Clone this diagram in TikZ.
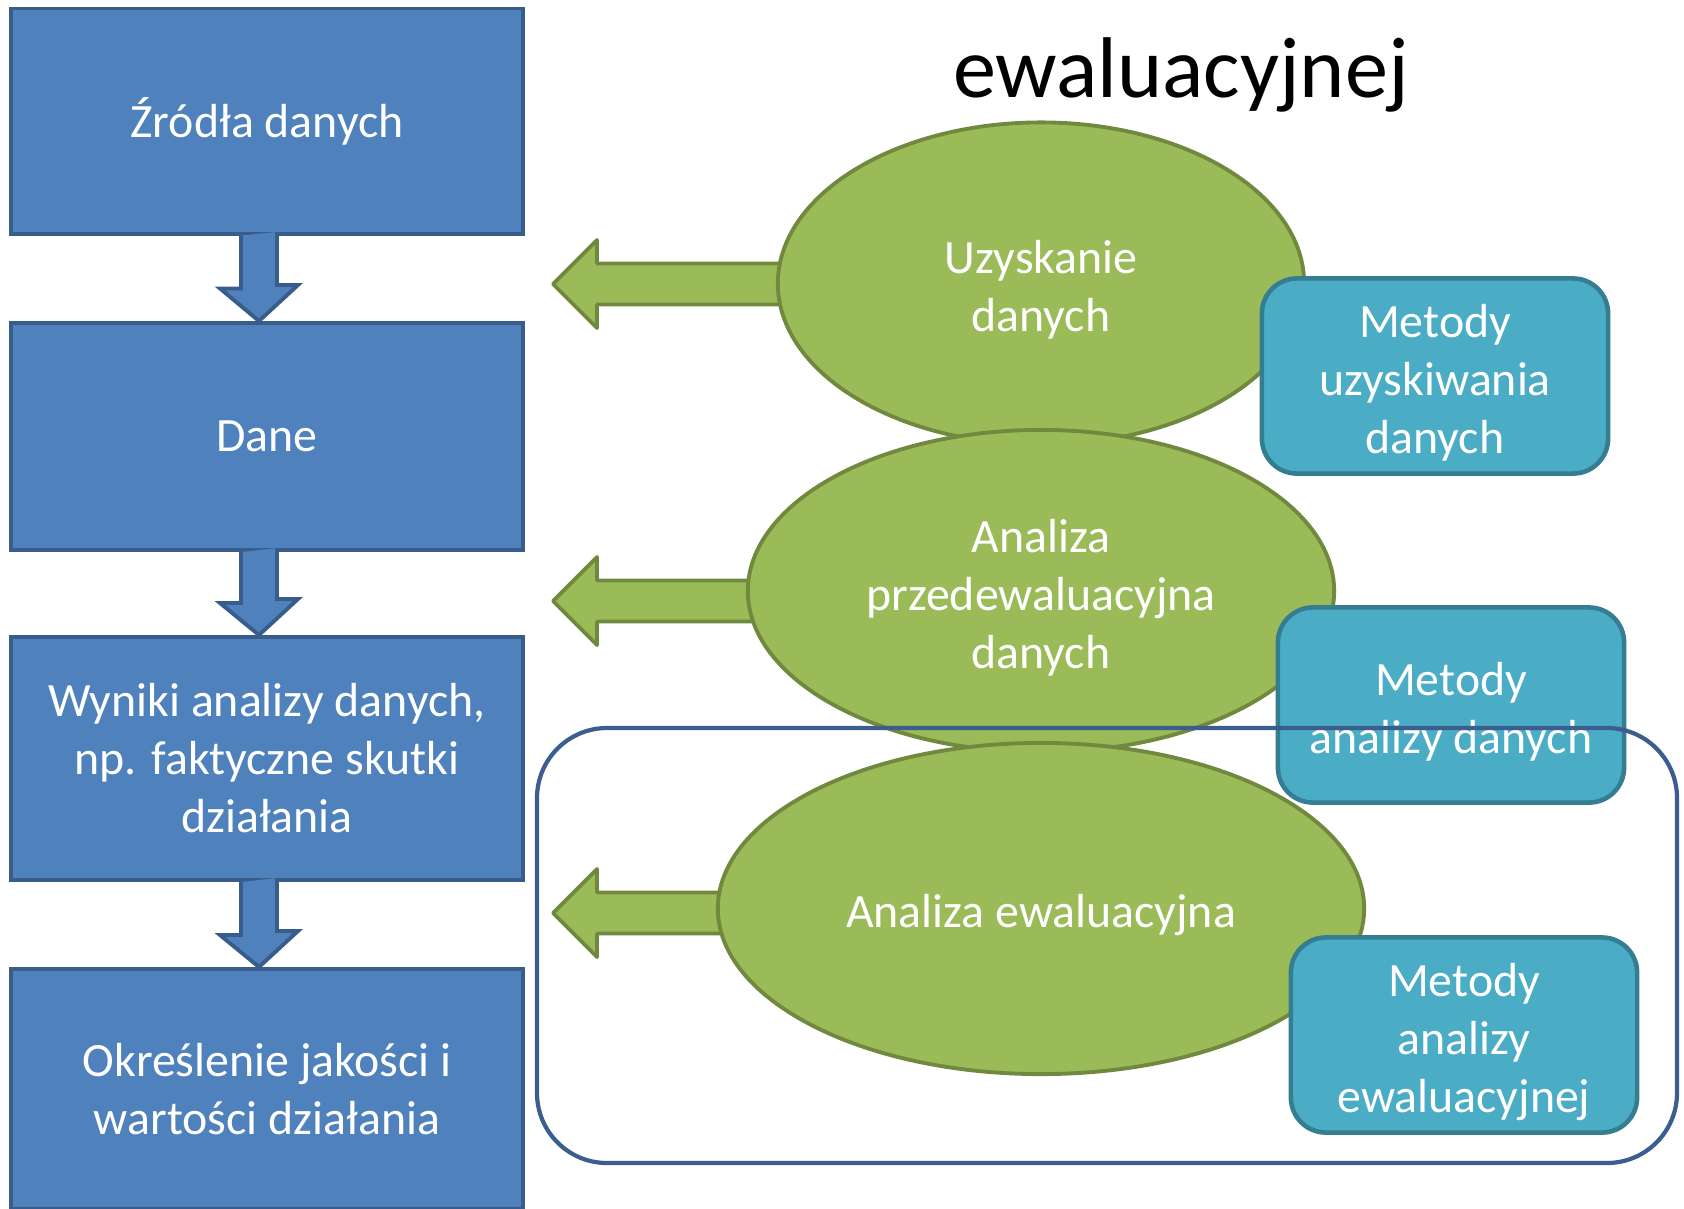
\documentclass[tikz,border=0pt]{standalone}
\usepackage{fontspec}
\setmainfont{Carlito}
\usetikzlibrary{shapes.geometric}
\definecolor{niebieski}{HTML}{4F81BD}
\definecolor{niebieskiramka}{HTML}{385D8A}
\definecolor{zielony}{HTML}{9BBB59}
\definecolor{zielonyramka}{HTML}{71893F}
\definecolor{turkus}{HTML}{4BACC6}
\definecolor{turkusramka}{HTML}{357D91}
\definecolor{obwodka}{HTML}{3B5E8F}
\begin{document}
\begin{tikzpicture}[x=0.01cm,y=-0.01cm,
  tekst/.style={text=white,align=center,inner sep=0pt,font=\fontsize{13.6}{16.5}\selectfont},
  nizej/.style={execute at begin node={\vbox\bgroup\vskip3.8pt\hbox\bgroup},execute at end node={\egroup\egroup}},
  prostokat/.style={tekst,rectangle,draw=niebieskiramka,fill=niebieski,line width=1.1pt,minimum width=5.12cm},
  elipsa/.style={tekst,nizej,ellipse,draw=zielonyramka,fill=zielony,line width=1.1pt},
  metoda/.style={tekst,nizej,rectangle,rounded corners=0.35cm,draw=turkusramka,fill=turkus,line width=1.3pt,minimum width=3.46cm,minimum height=1.95cm},
  strzalkaw/.style={draw=niebieskiramka,fill=niebieski,line width=1.1pt,line join=miter},
  strzalkaz/.style={draw=zielonyramka,fill=zielony,line width=1.1pt,line join=round}]
\useasboundingbox (0,0) rectangle (1684,1208);
\node[anchor=base,font=\fontsize{24.5}{30}\selectfont] (tytul) at (1181,97) {ewaluacyjnej};
\node[prostokat,minimum height=2.25cm] (zrodla) at (267,121) {Źródła danych};
\node[prostokat,minimum height=2.27cm] (dane) at (267,436.5) {Dane};
\node[prostokat,minimum height=2.43cm] (wyniki) at (267,758.5) {Wyniki analizy danych,\\np. faktyczne skutki\\działania};
\node[prostokat,minimum height=2.40cm] (ocena) at (267,1089) {Określenie jakości i\\wartości działania};
% strzalki w dol
\draw[strzalkaw] ([xshift=-0.26cm]zrodla.south) -- ++(0,53) -- ++(-21,0) -- ([xshift=-0.08cm]dane.north) -- ++(39,-36) -- ++(-21,0) -- ++(0,-53);
\draw[strzalkaw] ([xshift=-0.26cm]dane.south) -- ++(0,51) -- ++(-21,0) -- ([xshift=-0.08cm]wyniki.north) -- ++(39,-36) -- ++(-21,0) -- ++(0,-51);
\draw[strzalkaw] ([xshift=-0.26cm]wyniki.south) -- ++(0,53) -- ++(-21,0) -- ([xshift=-0.08cm]ocena.north) -- ++(39,-36) -- ++(-21,0) -- ++(0,-53);
% strzalki w lewo
\coordinate (g1) at (553,284);
\coordinate (g2) at (553,601);
\coordinate (g3) at (553,913);
\draw[strzalkaz] (g1) -- ++(44,-44) -- ++(0,23.5) -- ++(260,0) -- ++(0,41) -- ++(-260,0) -- ++(0,23.5) -- cycle;
\draw[strzalkaz] (g2) -- ++(44,-44) -- ++(0,23.5) -- ++(260,0) -- ++(0,41) -- ++(-260,0) -- ++(0,23.5) -- cycle;
\draw[strzalkaz] (g3) -- ++(44,-44) -- ++(0,23.5) -- ++(260,0) -- ++(0,41) -- ++(-260,0) -- ++(0,23.5) -- cycle;
\node[elipsa,minimum width=5.26cm,minimum height=3.22cm] (uzyskanie) at (1041,283.5) {Uzyskanie\\danych};
\node[elipsa,minimum width=5.86cm,minimum height=3.22cm] (przed) at (1041,591) {Analiza\\przedewaluacyjna\\danych};
\node[elipsa,minimum width=6.46cm,minimum height=3.31cm] (ewal) at (1041,908.5) {Analiza ewaluacyjna};
\node[metoda] (m1) at (1435,376) {Metody\\uzyskiwania\\danych};
\node[metoda] (m2) at (1451,705) {Metody\\analizy danych};
\node[metoda] (m3) at (1464,1035) {Metody\\analizy\\ewaluacyjnej};
% obwodka
\draw[obwodka,line width=1.2pt,rounded corners=0.7cm] (537,728) rectangle (1677,1163);
\end{tikzpicture}
\end{document}
